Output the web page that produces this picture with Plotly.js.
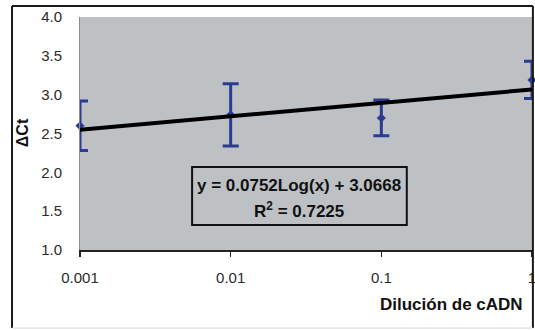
<!DOCTYPE html>
<html>
<head>
<meta charset="utf-8">
<script src="https://cdn.plot.ly/plotly-3.0.1.min.js"></script>
<style>
  html, body { margin: 0; padding: 0; background: #ffffff; }
  #chart { width: 535px; height: 330px; }
</style>
</head>
<body>
<div id="chart"></div>
<script>
// Data
const dilution = [0.001, 0.01, 0.1, 1];
const deltaCt = [2.60, 2.74, 2.70, 3.19];
const errorCt = [0.32, 0.40, 0.23, 0.24];
const xTickLabels = ['0.001', '0.01', '0.1', '1'];
const yTickVals = [1.0, 1.5, 2.0, 2.5, 3.0, 3.5, 4.0];
const yTickLabels = ['1.0', '1.5', '2.0', '2.5', '3.0', '3.5', '4.0'];
const equationText = 'y = 0.0752Log(x) + 3.0668';
const r2Text = 'R<sup>2</sup> = 0.7225';

// Logarithmic trend line fitted to the data (least squares on ln x)
const lx = dilution.map(Math.log);
const n = lx.length;
const mx = lx.reduce((a, b) => a + b, 0) / n;
const my = deltaCt.reduce((a, b) => a + b, 0) / n;
let sxy = 0, sxx = 0;
for (let i = 0; i < n; i++) { sxy += (lx[i] - mx) * (deltaCt[i] - my); sxx += (lx[i] - mx) ** 2; }
const slope = sxy / sxx;
const intercept = my - slope * mx;
const trendX = [dilution[0], dilution[dilution.length - 1]];
const trendY = trendX.map(x => intercept + slope * Math.log(x));

const blue = '#2b3a93';

const traces = [
  {
    x: dilution, y: deltaCt, type: 'scatter', mode: 'markers', cliponaxis: false,
    marker: { symbol: 'diamond', size: 7, color: blue },
    error_y: { type: 'data', array: errorCt, visible: true, color: blue, thickness: 3, width: 8 },
    hoverinfo: 'none', showlegend: false
  },
  {
    x: trendX, y: trendY, type: 'scatter', mode: 'lines', cliponaxis: false,
    line: { color: '#000000', width: 4 },
    hoverinfo: 'none', showlegend: false
  }
];

const layout = {
  width: 535, height: 330,
  margin: { l: 80, r: 3, t: 17, b: 80 },
  paper_bgcolor: '#ffffff',
  plot_bgcolor: '#bdc1c4',
  font: { family: 'Arial, Liberation Sans, sans-serif', size: 14, color: '#2a2a2a' },
  showlegend: false,
  xaxis: {
    type: 'log', range: [-3, 0],
    tickvals: dilution, ticktext: xTickLabels,
    ticks: 'outside', ticklen: 5, tickwidth: 1.5, tickcolor: '#222',
    ticklabelstandoff: 8, ticklabeloverflow: 'allow',
    showgrid: false, zeroline: false,
    showline: true, linecolor: '#222', linewidth: 1.5,
    tickfont: { size: 15, color: '#2a2a2a' }
  },
  yaxis: {
    range: [1, 4],
    tickvals: yTickVals, ticktext: yTickLabels,
    ticks: '', ticklabelstandoff: 14,
    showgrid: false, zeroline: false,
    showline: true, linecolor: '#8a8d90', linewidth: 1,
    tickfont: { size: 15, color: '#2a2a2a' }
  },
  shapes: [
    // outer frame
    { type: 'line', xref: 'paper', yref: 'paper', x0: -0.1504, x1: 1.002, y0: 1.047, y1: 1.047, line: { color: '#1a1a1a', width: 2 } },
    { type: 'line', xref: 'paper', yref: 'paper', x0: -0.1504, x1: -0.1504, y0: 1.047, y1: -0.335, line: { color: '#1a1a1a', width: 2 } },
    { type: 'line', xref: 'paper', yref: 'paper', x0: 1.002, x1: 1.002, y0: 1.047, y1: -0.335, line: { color: '#1a1a1a', width: 2 } },
    { type: 'line', xref: 'paper', yref: 'paper', x0: -0.1504, x1: 1.002, y0: -0.335, y1: -0.335, line: { color: '#d8d8d8', width: 1 } },
    // equation box
    { type: 'rect', xref: 'paper', yref: 'paper', x0: 0.248, x1: 0.723, y0: 0.107, y1: 0.356, line: { color: '#111', width: 2 }, fillcolor: 'rgba(0,0,0,0)' }
  ],
  annotations: [
    { xref: 'paper', yref: 'paper', x: 0.4856, y: 0.278, text: '<b>' + equationText + '</b>', showarrow: false,
      xanchor: 'center', yanchor: 'middle', font: { family: 'Arial, Liberation Sans, sans-serif', size: 17, color: '#111' } },
    { xref: 'paper', yref: 'paper', x: 0.4856, y: 0.172, text: '<b>' + r2Text + '</b>', showarrow: false,
      xanchor: 'center', yanchor: 'middle', font: { family: 'Arial, Liberation Sans, sans-serif', size: 17, color: '#111' } },
    { xref: 'paper', yref: 'paper', x: 0.9845, y: -0.236, text: '<b>Dilución de cADN</b>', showarrow: false,
      xanchor: 'right', yanchor: 'middle', font: { size: 17, color: '#111' } },
    { xref: 'paper', yref: 'paper', x: -0.128, y: 0.502, text: '<b>ΔCt</b>', showarrow: false, textangle: -90,
      xanchor: 'center', yanchor: 'middle', font: { size: 16, color: '#111' } }
  ]
};

Plotly.newPlot('chart', traces, layout, { staticPlot: true, displayModeBar: false });
</script>
</body>
</html>
